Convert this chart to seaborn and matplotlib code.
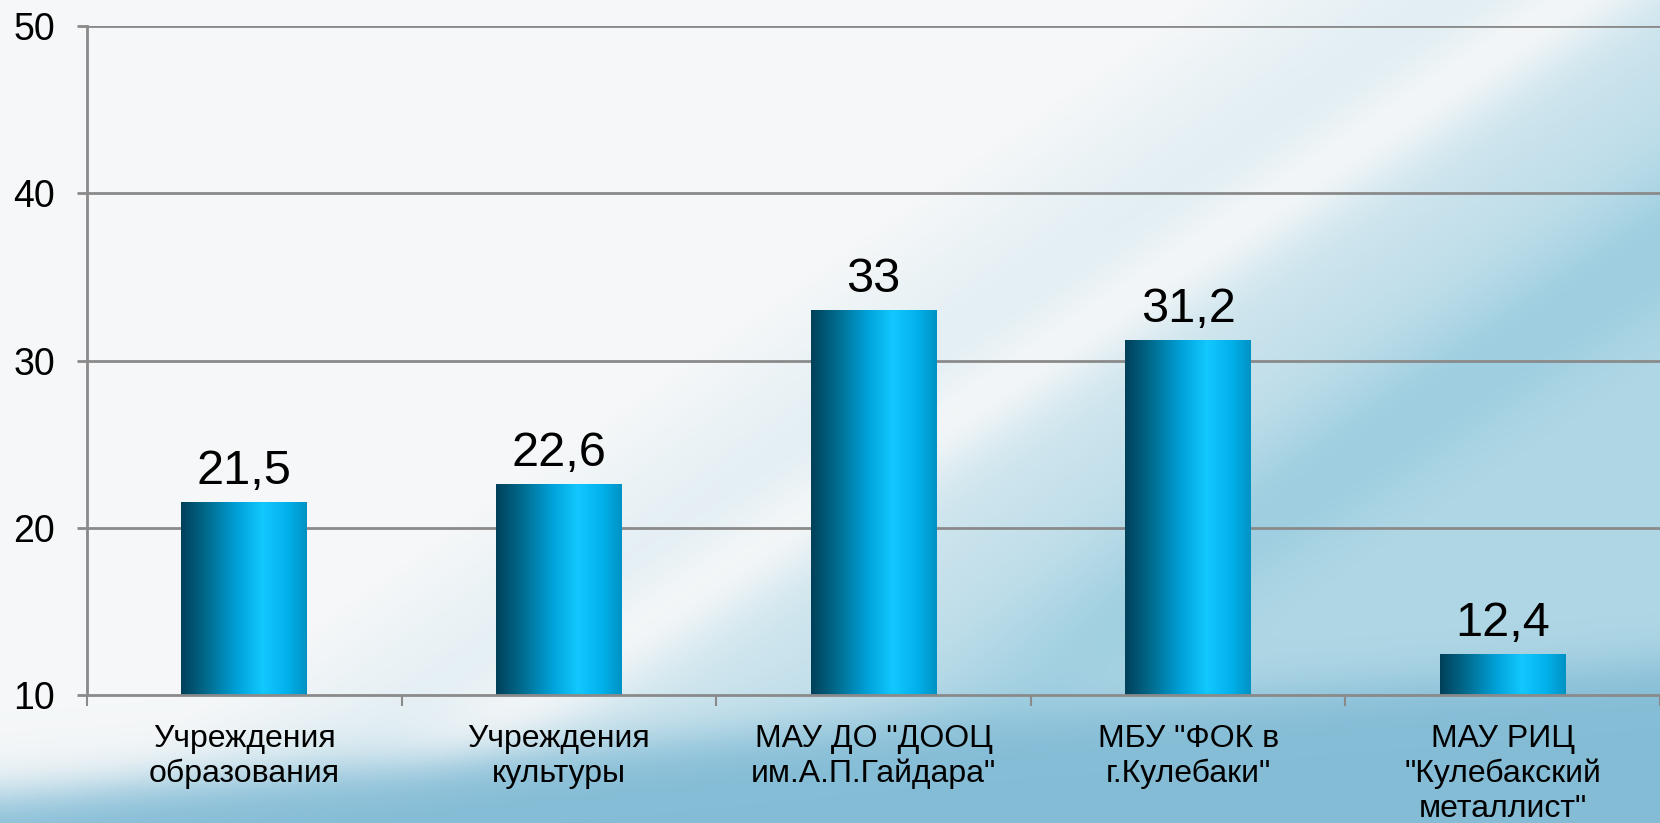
import numpy as np
import matplotlib
matplotlib.use("Agg")
import matplotlib.pyplot as plt
from matplotlib.colors import LinearSegmentedColormap
import seaborn as sns

categories = [
    "Учреждения\nобразования",
    "Учреждения\nкультуры",
    "МАУ ДО \"ДООЦ\nим.А.П.Гайдара\"",
    "МБУ \"ФОК в\nг.Кулебаки\"",
    "МАУ РИЦ\n\"Кулебакский\nметаллист\"",
]
values = [21.5, 22.6, 33.0, 31.2, 12.4]
y_ticks = [10, 20, 30, 40, 50]

sns.set_theme(style="white")
plt.rcParams['font.family'] = ['Liberation Sans', 'DejaVu Sans']
plt.rcParams['text.color'] = 'black'
plt.rcParams['xtick.color'] = 'black'
plt.rcParams['ytick.color'] = 'black'

W, H = 1660, 823
fig = plt.figure(figsize=(W / 100, H / 100), dpi=100)

# ---- decorative background ----
yy, xx = np.mgrid[0:H, 0:W].astype(float)
u, v = xx / W, yy / H
white = np.array([0.962, 0.970, 0.974])
blue = np.array([0.62, 0.81, 0.88])
deep = np.array([0.52, 0.74, 0.84])
b = np.clip((u * 1.0 + v * 0.7 - 0.72) / 0.5, 0, 1) * 0.8
n = np.array([650.0, 970.0]); n /= np.linalg.norm(n)
s = (xx - 600) * n[0] + (yy - 650) * n[1]
streak = np.exp(-(s / 45) ** 2)
b = b * (1 - 0.9 * streak)
s2 = (xx - 1050) * n[0] + (yy - 650) * n[1]
fade = 1 / (1 + np.exp(-(xx - 1000) / 80))
b = np.clip(b + 0.25 * np.exp(-(s2 / 60) ** 2) * fade, 0, 1)
edge = 795 - 0.08 * xx
band = 1 / (1 + np.exp(-(yy - edge) / 14))
img = white * (1 - b[..., None]) + blue * b[..., None]
img = img * (1 - band[..., None]) + deep * band[..., None]
bg = fig.add_axes([0, 0, 1, 1], zorder=-10)
bg.imshow(img, aspect='auto', interpolation='bilinear')
bg.axis('off')

# ---- chart ----
ax = fig.add_axes([87 / W, 1 - 695 / H, 1 - 87 / W, (695 - 26) / H])
ax.patch.set_alpha(0)

sns.barplot(x=categories, y=values, ax=ax, width=0.4, color="#10b0e8",
            saturation=1, errorbar=None, zorder=3)

ax.set_ylim(10, 50)
ax.set_yticks(y_ticks)
ax.set_xlim(-0.5, len(categories) - 0.5)
ymin = ax.get_ylim()[0]

cmap = LinearSegmentedColormap.from_list("bar", [
    (0.0, "#00405a"), (0.2, "#006a8c"), (0.45, "#00a2da"),
    (0.65, "#12c8ff"), (0.85, "#02b0ea"), (1.0, "#0092c4")])
grad = np.linspace(0, 1, 256).reshape(1, -1)
for p in ax.patches:
    x0, w, h = p.get_x(), p.get_width(), p.get_height()
    ax.imshow(grad, cmap=cmap, aspect='auto', extent=[x0, x0 + w, ymin, h],
              zorder=3, interpolation='bilinear')
    p.set_facecolor('none')
    p.set_edgecolor('none')
    ax.annotate(f"{h:g}".replace('.', ','), (x0 + w / 2, h),
                xytext=(0, 13.5), textcoords='offset points',
                ha='center', va='baseline', fontsize=35, color='black')
ax.set_xlim(-0.5, len(categories) - 0.5)
ax.set_ylim(10, 50)

gc = '#8a8a8a'
ax.grid(False)
for yv in y_ticks[1:]:
    ax.axhline(yv, color=gc, lw=2, zorder=1)
for side in ['top', 'right']:
    ax.spines[side].set_visible(False)
for side in ['left', 'bottom']:
    ax.spines[side].set_color(gc)
    ax.spines[side].set_linewidth(2)
    ax.spines[side].set_zorder(4)

ax.set_xticks(np.arange(-0.5, len(categories), 1.0), minor=True)
ax.tick_params(axis='x', which='minor', length=8, width=1.5, color=gc, direction='out', bottom=True)
ax.tick_params(axis='x', which='major', length=0, pad=21, labelsize=23, labelcolor='black')
ax.tick_params(axis='y', which='major', length=7, width=2, color=gc, direction='out', left=True,
               pad=16, labelsize=27, labelcolor='black')
ax.set_xlabel('')
ax.set_ylabel('')
for lbl in ax.get_xticklabels():
    lbl.set_linespacing(1.2)

fig.savefig("out.png", dpi=100)
